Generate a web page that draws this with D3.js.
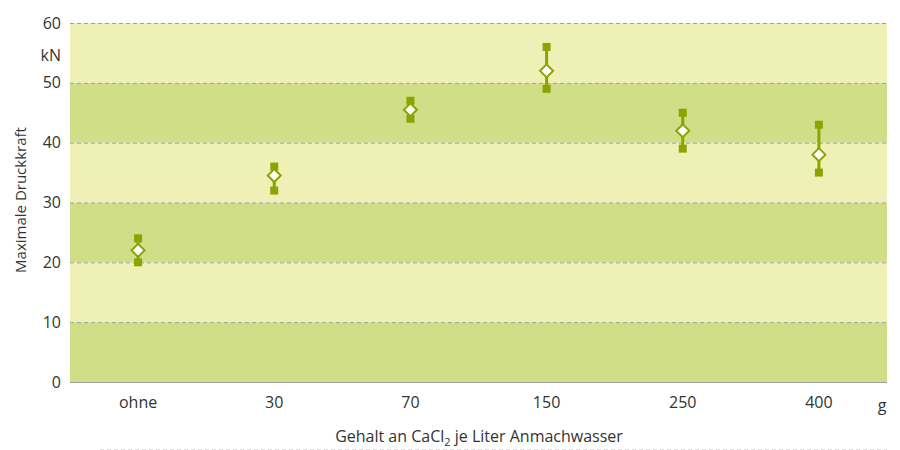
<!DOCTYPE html>
<html><head><meta charset="utf-8">
<script src="https://cdn.jsdelivr.net/npm/d3@7"></script>
<style>body{margin:0;background:#fff}svg{display:block}text{font-family:"Open Sans","Noto Sans",sans-serif;fill:#333}</style>
</head><body><svg id="c" width="900" height="450"></svg>
<script>
const categories = ["ohne","30","70","150","250","400"];
const meanValues = [22,34.5,45.5,52,42,38];
const maxValues = [24,36,47,56,45,43];
const minValues = [20,32,44,49,39,35];
const yTicks = [0,10,20,30,40,50,60];

const svg = d3.select("#c");
const L = 70, R = 887, T = 23, B = 382;
const x = d3.scaleBand().domain(categories).range([L, R]);
const y = d3.scaleLinear().domain([0,60]).range([B, T]);
const green = "#8ca300";

// bands
const bands = d3.range(0,60,10);
svg.selectAll("rect.band").data(bands).join("rect")
  .attr("x", L).attr("width", R - L)
  .attr("y", d => y(d+10)).attr("height", d => y(d) - y(d+10))
  .attr("fill", d => (d/10) % 2 === 0 ? "#d0df87" : "#eef0b5");

// grid
svg.selectAll("line.grid").data(yTicks.filter(d=>d>0)).join("line")
  .attr("x1", L).attr("x2", R).attr("y1", d=>y(d)+0.5).attr("y2", d=>y(d)+0.5)
  .attr("stroke", "#a0a0a0").attr("stroke-dasharray","4,3").attr("stroke-width",1);
svg.append("line").attr("x1",L).attr("x2",R).attr("y1",B+0.5).attr("y2",B+0.5)
  .attr("stroke","#a0a0a0").attr("stroke-width",1.2);

// y axis
const ya = svg.append("g").attr("transform",`translate(${L},0)`)
  .call(d3.axisLeft(y).tickValues(yTicks).tickSize(0).tickPadding(9));
ya.select(".domain").remove();
ya.selectAll("text").attr("font-size",16).style("font-family","'Open Sans',sans-serif").attr("fill","#333");

// x axis
const xa = svg.append("g").attr("transform",`translate(0,${B})`)
  .call(d3.axisBottom(x).tickSize(0).tickPadding(15));
xa.select(".domain").remove();
xa.selectAll("text").attr("font-size",16).style("font-family","'Open Sans',sans-serif").attr("fill","#333");

svg.append("text").attr("x",61).attr("y",61).attr("text-anchor","end").attr("font-size",16).text("kN");
svg.append("text").attr("x",882).attr("y",411).attr("text-anchor","middle").attr("font-size",16).text("g");

svg.append("text").attr("transform","translate(26,200) rotate(-90)").attr("text-anchor","middle")
  .attr("font-size",15).text("Maximale Druckkraft");

const xl = svg.append("text").attr("x",479).attr("y",442).attr("text-anchor","middle").attr("font-size",16);
xl.append("tspan").text("Gehalt an CaCl");
xl.append("tspan").attr("font-size",11).attr("dy",4).text("2");
xl.append("tspan").attr("dy",-4).text(" je Liter Anmachwasser");

svg.append("line").attr("x1",100).attr("x2",887).attr("y1",449.5).attr("y2",449.5)
  .attr("stroke","#ddd").attr("stroke-dasharray","4,3");

// error bars
const data = categories.map((c,i)=>({c, m:meanValues[i], hi:maxValues[i], lo:minValues[i]}));
const cx = d => x(d.c) + x.bandwidth()/2;
const g = svg.append("g");
g.selectAll("line.err").data(data).join("line")
  .attr("x1",cx).attr("x2",cx).attr("y1",d=>y(d.hi)).attr("y2",d=>y(d.lo))
  .attr("stroke",green).attr("stroke-width",3);
g.selectAll("rect.hi").data(data).join("rect")
  .attr("x",d=>cx(d)-4).attr("y",d=>y(d.hi)-4).attr("width",8).attr("height",8).attr("fill",green);
g.selectAll("rect.lo").data(data).join("rect")
  .attr("x",d=>cx(d)-4).attr("y",d=>y(d.lo)-4).attr("width",8).attr("height",8).attr("fill",green);
g.selectAll("path.m").data(data).join("path")
  .attr("transform",d=>`translate(${cx(d)},${y(d.m)})`)
  .attr("d","M0,-6.5L6.5,0L0,6.5L-6.5,0Z")
  .attr("fill","#fff").attr("stroke",green).attr("stroke-width",2);
</script></body></html>
